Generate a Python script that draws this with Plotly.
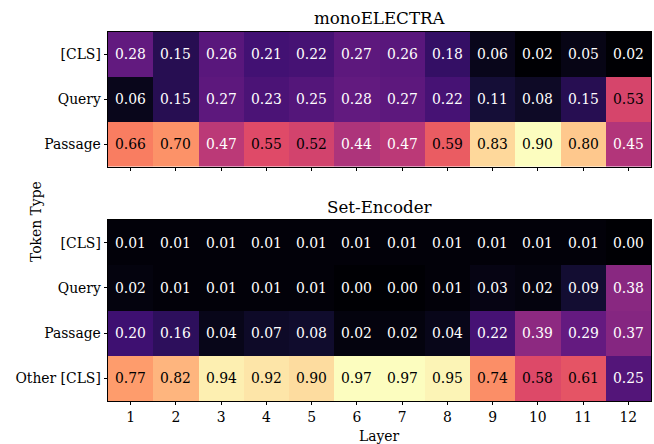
import plotly.graph_objects as go

layers = list(range(1, 13))
mono_rows = ["[CLS]", "Query", "Passage"]
mono_vals = [
    [0.28, 0.15, 0.26, 0.21, 0.22, 0.27, 0.26, 0.18, 0.06, 0.02, 0.05, 0.02],
    [0.06, 0.15, 0.27, 0.23, 0.25, 0.28, 0.27, 0.22, 0.11, 0.08, 0.15, 0.53],
    [0.66, 0.70, 0.47, 0.55, 0.52, 0.44, 0.47, 0.59, 0.83, 0.90, 0.80, 0.45],
]
set_rows = ["[CLS]", "Query", "Passage", "Other [CLS]"]
set_vals = [
    [0.01, 0.01, 0.01, 0.01, 0.01, 0.01, 0.01, 0.01, 0.01, 0.01, 0.01, 0.00],
    [0.02, 0.01, 0.01, 0.01, 0.01, 0.00, 0.00, 0.01, 0.03, 0.02, 0.09, 0.38],
    [0.20, 0.16, 0.04, 0.07, 0.08, 0.02, 0.02, 0.04, 0.22, 0.39, 0.29, 0.37],
    [0.77, 0.82, 0.94, 0.92, 0.90, 0.97, 0.97, 0.95, 0.74, 0.58, 0.61, 0.25],
]

magma = [
    [0.0, "#000004"], [0.1, "#140e36"], [0.2, "#3b0f70"], [0.3, "#641a80"],
    [0.4, "#8c2981"], [0.5, "#b73779"], [0.6, "#de4968"], [0.7, "#f7705c"],
    [0.8, "#fe9f6d"], [0.9, "#fecf92"], [1.0, "#fcfdbf"],
]

FONT = "DejaVu Serif"
fig = go.Figure()

def add_map(vals, rows, xa, ya):
    flat = [v for r in vals for v in r]
    fig.add_trace(go.Heatmap(
        z=vals, x=layers, y=rows, colorscale=magma,
        zmin=min(flat), zmax=max(flat), showscale=False,
        xaxis=xa, yaxis=ya, hoverinfo="skip", xgap=0, ygap=0,
    ))
    for ri, r in enumerate(vals):
        for ci, v in enumerate(r):
            fig.add_annotation(
                x=layers[ci], y=rows[ri], xref=xa, yref=ya,
                text=f"{v:.2f}", showarrow=False,
                font=dict(family=FONT, size=13.9,
                          color="black" if v >= 0.5 else "white"),
            )

add_map(mono_vals, mono_rows, "x", "y")
add_map(set_vals, set_rows, "x2", "y2")

axis_common = dict(
    showline=True, linecolor="black", linewidth=0.8, mirror=True,
    ticks="outside", ticklen=3.5, tickwidth=0.8, tickcolor="black",
    showgrid=False, zeroline=False,
    tickfont=dict(family=FONT, size=13.9, color="black"),
)

top = 1 - 134.5 / 369
bot_top = 1 - 188 / 369

fig.update_layout(
    width=654, height=444,
    margin=dict(l=108, r=3, t=32, b=43),
    paper_bgcolor="white", plot_bgcolor="white",
    xaxis=dict(domain=[0, 1], anchor="y", range=[0.5, 12.5],
               tickvals=layers, showticklabels=False, **axis_common),
    yaxis=dict(domain=[top, 1], anchor="x", range=[2.5, -0.5],
               type="category", **axis_common),
    xaxis2=dict(domain=[0, 1], anchor="y2", range=[0.5, 12.5],
                tickvals=layers, ticktext=[str(l) for l in layers], **axis_common),
    yaxis2=dict(domain=[0, bot_top], anchor="x2", range=[3.5, -0.5],
                type="category", **axis_common),
    showlegend=False,
)

fig.add_annotation(text="monoELECTRA", xref="paper", yref="paper", x=0.5,
                   y=(401 - 18) / 369, yanchor="middle", showarrow=False,
                   font=dict(family=FONT, size=16.7, color="black"))
fig.add_annotation(text="Set-Encoder", xref="paper", yref="paper", x=0.5,
                   y=(401 - 207) / 369, yanchor="middle", showarrow=False,
                   font=dict(family=FONT, size=16.7, color="black"))
fig.add_annotation(text="Layer", xref="paper", yref="paper", x=0.5,
                   y=(401 - 436) / 369, yanchor="middle", showarrow=False,
                   font=dict(family=FONT, size=13.9, color="black"))
fig.add_annotation(text="Token Type", xref="paper", yref="paper",
                   x=(36 - 108) / 543, y=(401 - 222) / 369, textangle=-90,
                   xanchor="center", yanchor="middle", showarrow=False,
                   font=dict(family=FONT, size=13.9, color="black"))

fig.write_html("out.html", config={"displayModeBar": False},
               post_script="document.body.style.margin='0';document.body.style.overflow='hidden';")
